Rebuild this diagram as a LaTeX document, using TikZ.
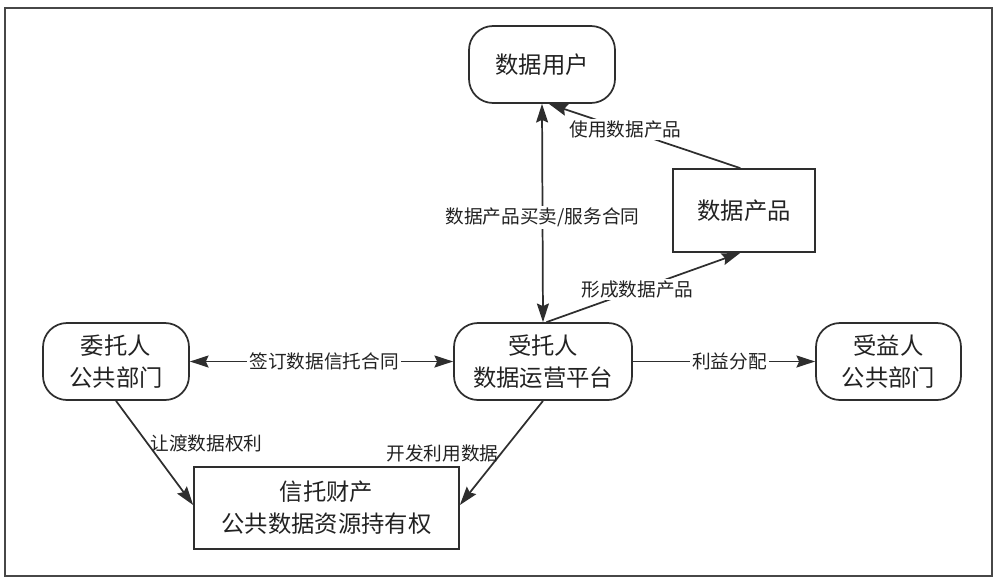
\documentclass[tikz,border=0pt]{standalone}
\usepackage{fontspec}
\newfontfamily\cjk{Noto Sans CJK SC}
\usepackage{tikz}
\usetikzlibrary{arrows.meta,shapes}
\newcommand{\bigfs}{\fontsize{17.5pt}{24pt}\selectfont}
\newcommand{\smallfs}{\fontsize{14pt}{18pt}\selectfont}
\newcommand{\linew}{1.3pt}
\definecolor{linegray}{HTML}{2E2E2E}
\definecolor{framegray}{HTML}{474747}
\definecolor{textgray}{HTML}{222222}

\begin{document}
\begin{tikzpicture}[x=0.75pt, y=-0.75pt]
    \useasboundingbox (0,0) rectangle (996,579);
    \begin{scope}[shift={(0,0)}]
        %\draw[help lines] (0,0) grid (996,579);
        \tikzset{RoundBox/.style = {draw=linegray, line width=\linew, rounded corners=18pt, align=center,
                    text=textgray, font=\cjk\bigfs, inner sep=0pt, minimum height=77*0.75pt}}
        \tikzset{SquareBox/.style = {draw=linegray, line width=\linew, align=center,
                    text=textgray, font=\cjk\bigfs, inner sep=0pt}}
        \tikzset{EdgeLabel/.style = {fill=white, text=textgray, font=\cjk\smallfs, inner sep=1.5pt}}
        \tikzset{Link/.style = {draw=linegray, line width=\linew, -{Stealth[length=14pt, width=9pt, inset=2pt]}}}
        \tikzset{BiLink/.style = {draw=linegray, line width=\linew, {Stealth[length=14pt, width=9pt, inset=2pt]}-{Stealth[length=14pt, width=9pt, inset=2pt]}}}
        % frame
        \draw[framegray, line width=1.6pt] (5,8) rectangle (992,576);
        % boxes
        \node[RoundBox, minimum width=146*0.75pt] (user) at (542,64.5) {数据用户};
        \node[SquareBox, minimum width=142*0.75pt, minimum height=83*0.75pt] (product) at (744,210.5) {数据产品};
        \node[RoundBox, minimum width=146*0.75pt] (principal) at (116,361.5) {委托人\\公共部门};
        \node[RoundBox, minimum width=178*0.75pt] (trustee) at (543,361.5) {受托人\\数据运营平台};
        \node[RoundBox, minimum width=145*0.75pt] (beneficiary) at (888.5,361.5) {受益人\\公共部门};
        \node[SquareBox, minimum width=265*0.75pt, minimum height=82*0.75pt] (property) at (326.5,508) {信托财产\\公共数据资源持有权};
        % links
        \draw[BiLink] (user.south) -- node[EdgeLabel, pos=0.52] {数据产品买卖/服务合同} (trustee.north);
        \draw[Link] (product.95) -- node[EdgeLabel, pos=0.6] {使用数据产品} (user.-80);
        \draw[Link] (trustee.85) -- node[EdgeLabel, pos=0.47] {形成数据产品} (product.-95);
        \draw[BiLink] (principal.east) -- node[EdgeLabel, pos=0.51] {签订数据信托合同} (trustee.west);
        \draw[Link] (trustee.east) -- node[EdgeLabel, pos=0.53] {利益分配} (beneficiary.west);
        \draw[Link] (principal.south) -- node[EdgeLabel, pos=0.41, anchor=west, fill=none] {让渡数据权利} (property.west |- 0,505);
        \draw[Link] (trustee.south) -- node[EdgeLabel, pos=0.5, anchor=east, fill=none] {开发利用数据} (property.east |- 0,505);
    \end{scope}
\end{tikzpicture}
\end{document}
